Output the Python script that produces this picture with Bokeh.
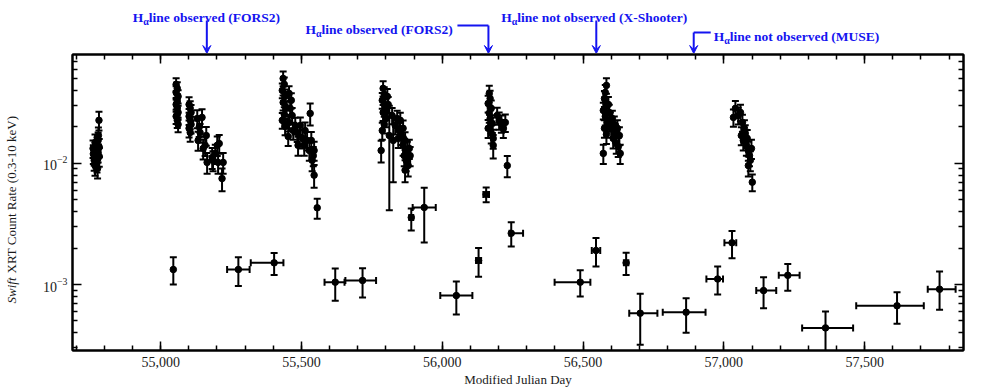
import numpy as np
from bokeh.plotting import figure
from bokeh.layouts import row, column
from bokeh.models import (ColumnDataSource, Whisker, TeeHead, Arrow,
                          VeeHead, FixedTicker, NumeralTickFormatter, LogAxis,
                          LinearAxis, CustomJSTickFormatter, Range1d)
from bokeh.core.properties import value
from bokeh.embed import file_html
from bokeh.resources import INLINE

# ---------------- data ----------------
c1_mjd = [54760, 54764, 54764, 54767, 54767, 54771, 54771, 54774, 54774, 54778, 54778, 54782, 54782, 54781, 54779, 54761, 54776]
c1_rate = [0.0133, 0.0116, 0.0106, 0.0149, 0.0096, 0.0128, 0.0110, 0.0141, 0.0102, 0.0123, 0.0155, 0.0114, 0.0136, 0.0227, 0.0170, 0.0120, 0.0091]
c1_err = [0.0022, 0.0020, 0.0019, 0.0024, 0.0017, 0.0022, 0.0019, 0.0023, 0.0018, 0.0021, 0.0025, 0.0020, 0.0023, 0.0040, 0.0028, 0.0021, 0.0016]

c2_mjd = [55055, 55059, 55055, 55062, 55059, 55055, 55059, 55062, 55055, 55059, 55062,
          55101, 55105, 55108, 55101, 55105, 55108, 55101, 55105,
          55147, 55140, 55133, 55162, 55151, 55165, 55183, 55194, 55201, 55208, 55218, 55222, 55204, 55137, 55130, 55158, 55186]
c2_rate = [0.0450, 0.0417, 0.0386, 0.0358, 0.0332, 0.0307, 0.0285, 0.0264, 0.0245, 0.0227, 0.0210,
           0.0307, 0.0285, 0.0264, 0.0245, 0.0227, 0.0210, 0.0195, 0.0180,
           0.0240, 0.0180, 0.0155, 0.0170, 0.0133, 0.0102, 0.0112, 0.0121, 0.0141, 0.0146, 0.0075, 0.0102, 0.0102, 0.0200, 0.0235, 0.0141, 0.0106]
c2_err = [0.0055, 0.0052, 0.0048, 0.0045, 0.0042, 0.0040, 0.0037, 0.0035, 0.0033, 0.0031, 0.0029,
          0.0045, 0.0042, 0.0040, 0.0037, 0.0035, 0.0033, 0.0031, 0.0029,
          0.0040, 0.0032, 0.0028, 0.0030, 0.0025, 0.0020, 0.0022, 0.0022, 0.0026, 0.0026, 0.0016, 0.0020, 0.0020, 0.0035, 0.0040, 0.0026, 0.0020]

c3_mjd = [55435, 55439, 55432, 55442, 55435, 55446, 55439, 55432, 55442, 55456, 55464, 55460, 55467, 55456, 55471, 55453,
          55478, 55485, 55496, 55503, 55513, 55520, 55488, 55510, 55528, 55535, 55542, 55538, 55545, 55531, 55545, 55556]
c3_rate = [0.0504, 0.0450, 0.0401, 0.0358, 0.0319, 0.0285, 0.0254, 0.0227, 0.0202, 0.0379, 0.0332, 0.0285, 0.0249, 0.0218, 0.0187, 0.0167,
           0.0206, 0.0180, 0.0206, 0.0161, 0.0187, 0.0155, 0.0141, 0.0141, 0.0128, 0.0155, 0.0116, 0.0106, 0.0128, 0.0259, 0.0080, 0.0043]
c3_err = [0.0070, 0.0062, 0.0056, 0.0050, 0.0045, 0.0041, 0.0037, 0.0034, 0.0031, 0.0055, 0.0048, 0.0042, 0.0038, 0.0034, 0.0030, 0.0028,
          0.0033, 0.0030, 0.0034, 0.0028, 0.0031, 0.0027, 0.0025, 0.0025, 0.0023, 0.0027, 0.0021, 0.0020, 0.0023, 0.0053, 0.0017, 0.0008]

c4_mjd = [55783, 55790, 55794, 55787, 55797, 55790, 55801, 55794, 55787, 55805, 55808, 55801, 55812, 55826, 55822, 55833,
          55840, 55847, 55854, 55844, 55861, 55868, 55865, 55876, 55872, 55883, 55879, 55886, 55861, 55851, 55868]
c4_rate = [0.0128, 0.0417, 0.0372, 0.0332, 0.0296, 0.0264, 0.0235, 0.0210, 0.0187, 0.0358, 0.0307, 0.0274, 0.0170, 0.0155, 0.0249, 0.0206,
           0.0235, 0.0187, 0.0170, 0.0161, 0.0141, 0.0155, 0.0116, 0.0128, 0.0106, 0.0133, 0.0096, 0.0116, 0.0195, 0.0227, 0.0088]
c4_err = [0.0026, 0.0060, 0.0054, 0.0049, 0.0044, 0.0040, 0.0036, 0.0033, 0.0030, 0.0053, 0.0046, 0.0042, 0.0129, 0.0085, 0.0038, 0.0033,
          0.0037, 0.0030, 0.0028, 0.0027, 0.0025, 0.0026, 0.0021, 0.0023, 0.0020, 0.0024, 0.0018, 0.0021, 0.0031, 0.0035, 0.0018]

c5_mjd = [56167, 56170, 56163, 56174, 56167, 56170, 56178, 56163, 56174, 56181, 56181, 56195, 56202, 56210, 56217, 56224, 56231]
c5_rate = [0.0379, 0.0344, 0.0313, 0.0285, 0.0259, 0.0235, 0.0214, 0.0195, 0.0177, 0.0161, 0.0141, 0.0249, 0.0227, 0.0214, 0.0195, 0.0218, 0.0096]
c5_err = [0.0060, 0.0055, 0.0050, 0.0046, 0.0042, 0.0039, 0.0036, 0.0033, 0.0031, 0.0029, 0.0031, 0.0040, 0.0037, 0.0035, 0.0033, 0.0036, 0.0019]

c6_mjd = [56583, 56579, 56576, 56583, 56572, 56579, 56586, 56576, 56583, 56590, 56593, 56597, 56600, 56604, 56611, 56615,
          56607, 56622, 56629, 56618, 56625, 56572, 56632]
c6_rate = [0.0441, 0.0386, 0.0344, 0.0307, 0.0274, 0.0245, 0.0218, 0.0195, 0.0174, 0.0307, 0.0264, 0.0227, 0.0195, 0.0235, 0.0210, 0.0180,
           0.0161, 0.0195, 0.0170, 0.0146, 0.0138, 0.0121, 0.0121]
c6_err = [0.0065, 0.0058, 0.0052, 0.0047, 0.0043, 0.0039, 0.0035, 0.0032, 0.0029, 0.0047, 0.0041, 0.0037, 0.0032, 0.0038, 0.0034, 0.0031,
          0.0028, 0.0032, 0.0029, 0.0026, 0.0025, 0.0022, 0.0022]

c7_mjd = [57041, 57059, 57034, 57051, 57066, 57073, 57062, 57069, 57076, 57080, 57087, 57083, 57091, 57094, 57098, 57087, 57101]
c7_rate = [0.0285, 0.0264, 0.0240, 0.0249, 0.0218, 0.0195, 0.0170, 0.0155, 0.0177, 0.0141, 0.0128, 0.0161, 0.0116, 0.0106, 0.0133, 0.0096, 0.0070]
c7_err = [0.0043, 0.0041, 0.0039, 0.0039, 0.0035, 0.0032, 0.0029, 0.0027, 0.0030, 0.0025, 0.0023, 0.0028, 0.0021, 0.0020, 0.0024, 0.0018, 0.0011]

low_mjd = [55045, 55276, 55403, 55620, 55717, 55890, 55936, 56050, 56129, 56156, 56245, 56490,
           56546, 56653, 56703, 56866, 56978, 57029, 57141, 57227, 57361, 57615, 57766]
low_mjd_minus = [0, 40, 83, 38, 61, 7, 41, 57, 9, 10, 6, 91, 15, 8, 39, 83, 40, 27, 26, 32, 83, 145, 42]
low_mjd_plus = [0, 40, 33, 33, 48, 7, 41, 57, 9, 10, 42, 36, 15, 8, 61, 69, 19, 15, 45, 42, 98, 95, 57]
low_rate = [1.33e-3, 1.33e-3, 1.51e-3, 1.045e-3, 1.08e-3, 3.58e-3, 4.33e-3, 0.81e-3, 1.58e-3, 5.55e-3, 2.65e-3, 1.045e-3,
            1.91e-3, 1.51e-3, 0.579e-3, 0.590e-3, 1.11e-3, 2.21e-3, 0.891e-3, 1.19e-3, 0.438e-3, 0.667e-3, 0.914e-3]
low_rate_minus = [0.33e-3, 0.36e-3, 0.31e-3, 0.31e-3, 0.30e-3, 0.79e-3, 2.11e-3, 0.245e-3, 0.42e-3, 0.78e-3, 0.59e-3, 0.25e-3,
                  0.50e-3, 0.31e-3, 0.261e-3, 0.191e-3, 0.283e-3, 0.56e-3, 0.254e-3, 0.30e-3, 0.158e-3, 0.194e-3, 0.296e-3]
low_rate_plus = [0.35e-3, 0.35e-3, 0.31e-3, 0.31e-3, 0.28e-3, 0.67e-3, 1.97e-3, 0.25e-3, 0.42e-3, 0.79e-3, 0.62e-3, 0.265e-3,
                 0.51e-3, 0.32e-3, 0.259e-3, 0.181e-3, 0.30e-3, 0.55e-3, 0.259e-3, 0.29e-3, 0.16e-3, 0.196e-3, 0.366e-3]

x_major_ticks = [55000, 55500, 56000, 56500, 57000, 57500]
x_minor_ticks = list(range(54700, 57900, 100))
y_major_ticks = [1e-3, 1e-2]
y_minor_ticks = [k * 10.0 ** e for e in (-4, -3, -2) for k in range(2, 10)]

obs_mjd = [55164, 56164, 56547, 56893]
obs_text = ["line observed (FORS2)", "line observed (FORS2)",
            "line not observed (X-Shooter)", "line not observed (MUSE)"]

# ---------------- layout ----------------
YL_W = 22                    # strip holding the y-axis title
TOP_H = 53                   # strip holding the spectroscopy annotations
W, H = 981 - YL_W, 392 - TOP_H
ML, MR, MT, MB = 50, 18, 1, 42
X0, X1 = 54687, 57851
Y0, Y1 = 2.85e-4, 0.0794
FRAME_W = W - ML - MR
DAY_PER_PX = (X1 - X0) / FRAME_W

SERIF = "Liberation Serif"
BLUE = "#1414f0"
TXT = "#1a1a1a"

p = figure(width=W, height=H, x_range=Range1d(X0, X1), y_range=Range1d(Y0, Y1),
           y_axis_type="log", output_backend="svg", toolbar_location=None,
           min_border_left=ML, min_border_right=MR, min_border_top=MT, min_border_bottom=MB)
p.grid.visible = False
p.outline_line_color = "black"
p.outline_line_width = 2

xticker = FixedTicker(ticks=x_major_ticks, minor_ticks=x_minor_ticks)
yticker = FixedTicker(ticks=y_major_ticks, minor_ticks=y_minor_ticks)
ax_bottom = p.below[0]
ax_left = p.left[0]
ax_bottom.ticker = xticker
ax_bottom.formatter = NumeralTickFormatter(format="0,0")
ax_left.ticker = yticker

ax_top = LinearAxis(ticker=xticker, formatter=CustomJSTickFormatter(code="return ''"))
ax_right = LogAxis(ticker=yticker, formatter=CustomJSTickFormatter(code="return ''"))
p.add_layout(ax_top, "above")
p.add_layout(ax_right, "right")

for ax in (ax_bottom, ax_left, ax_top, ax_right):
    ax.axis_line_width = 2
    ax.axis_line_color = "black"
    ax.major_tick_in = 9
    ax.major_tick_out = 0
    ax.minor_tick_in = 5
    ax.minor_tick_out = 0
    ax.major_tick_line_width = 1.5
    ax.minor_tick_line_width = 1.5
    ax.major_tick_line_color = "black"
    ax.minor_tick_line_color = "black"
    ax.major_label_text_font = SERIF
    ax.major_label_text_font_size = "14px"
    ax.major_label_text_color = TXT
ax_top.major_label_standoff = 0
ax_right.major_label_standoff = 0
ax_bottom.major_label_standoff = 6
ax_left.major_label_standoff = 5
ax_bottom.axis_label = "Modified Julian Day"
ax_bottom.axis_label_standoff = 2
ax_bottom.axis_label_text_font = SERIF
ax_bottom.axis_label_text_font_style = "normal"
ax_bottom.axis_label_text_font_size = "13px"
ax_bottom.axis_label_text_color = TXT

# ---------------- data marks ----------------
hi_mjd = np.array(c1_mjd + c2_mjd + c3_mjd + c4_mjd + c5_mjd + c6_mjd + c7_mjd, dtype=float)
hi_rate = np.array(c1_rate + c2_rate + c3_rate + c4_rate + c5_rate + c6_rate + c7_rate)
hi_err = np.array(c1_err + c2_err + c3_err + c4_err + c5_err + c6_err + c7_err)
hi_src = ColumnDataSource(dict(x=hi_mjd, y=hi_rate, lo=hi_rate - hi_err, up=hi_rate + hi_err))

lm = np.array(low_mjd, dtype=float)
lr = np.array(low_rate)
lo_src = ColumnDataSource(dict(
    x=lm, y=lr,
    xlo=lm - np.array(low_mjd_minus), xup=lm + np.array(low_mjd_plus),
    ylo=lr - np.array(low_rate_minus), yup=lr + np.array(low_rate_plus)))


def tee():
    return TeeHead(size=7, line_width=2, line_color="black")


p.add_layout(Whisker(source=hi_src, base="x", lower="lo", upper="up", dimension="height",
                     line_width=2, line_color="black", lower_head=tee(), upper_head=tee()))
p.add_layout(Whisker(source=lo_src, base="x", lower="ylo", upper="yup", dimension="height",
                     line_width=2, line_color="black", lower_head=tee(), upper_head=tee()))
p.add_layout(Whisker(source=lo_src, base="y", lower="xlo", upper="xup", dimension="width",
                     line_width=2, line_color="black", lower_head=tee(), upper_head=tee()))

p.scatter("x", "y", source=hi_src, size=6.5, color="black")
p.scatter("x", "y", source=lo_src, size=6.5, color="black")

# ---------------- y-axis title strip ----------------
yl = figure(width=YL_W, height=392, x_range=Range1d(0, YL_W), y_range=Range1d(0, 392),
            output_backend="svg", toolbar_location=None, min_border=0,
            x_axis_location=None, y_axis_location=None)
yl.grid.visible = False
yl.outline_line_color = None
yl.text(x=[11], y=[89], text=["Swift"], angle=np.pi / 2, text_font=value(SERIF),
        text_font_style="italic", text_font_size="13px", text_baseline="middle",
        text_align="left", text_color=TXT)
yl.text(x=[11], y=[119], text=["XRT Count Rate (0.3-10 keV)"], angle=np.pi / 2,
        text_font=value(SERIF), text_font_size="13px", text_baseline="middle",
        text_align="left", text_color=TXT)

# ---------------- spectroscopy annotation strip ----------------
top = figure(width=W, height=TOP_H, x_range=p.x_range, y_range=Range1d(0, TOP_H),
             output_backend="svg", toolbar_location=None,
             min_border_left=ML, min_border_right=MR, min_border_top=0, min_border_bottom=0,
             x_axis_location=None, y_axis_location=None)
top.grid.visible = False
top.outline_line_color = None

# (x offset of "H" from the arrow in px, text baseline y, connector y, elbow length px)
ann_layout = [(-74, 36, 33, 0), (-183, 24, 28, -31), (-95, 36, 33, 0), (20, 17, 21, 17)]
for m, txt, (dx, base, ly, elbow) in zip(obs_mjd, obs_text, ann_layout):
    tkw = dict(text_font=value(SERIF), text_font_style="bold", text_color=BLUE,
               text_baseline="alphabetic", text_align="left")
    top.text(x=[m + dx * DAY_PER_PX], y=[base], text=["H"], text_font_size="13.5px", **tkw)
    top.text(x=[m + (dx + 10.5) * DAY_PER_PX], y=[base - 3.5], text=["\u03b1"],
             text_font_size="10px", **tkw)
    top.text(x=[m + (dx + 16) * DAY_PER_PX], y=[base], text=[txt], text_font_size="13.5px", **tkw)
    top.add_layout(Arrow(x_start=m, y_start=ly, x_end=m, y_end=0, line_color=BLUE, line_width=2,
                         end=VeeHead(size=8, line_color=BLUE, fill_color=BLUE, line_width=1)))
    if elbow != 0:
        top.segment(x0=[m + elbow * DAY_PER_PX], y0=[ly], x1=[m], y1=[ly],
                    line_color=BLUE, line_width=2)

layout = row(yl, column(top, p, spacing=0), spacing=0)
open("out.html", "w").write(file_html(layout, INLINE))
